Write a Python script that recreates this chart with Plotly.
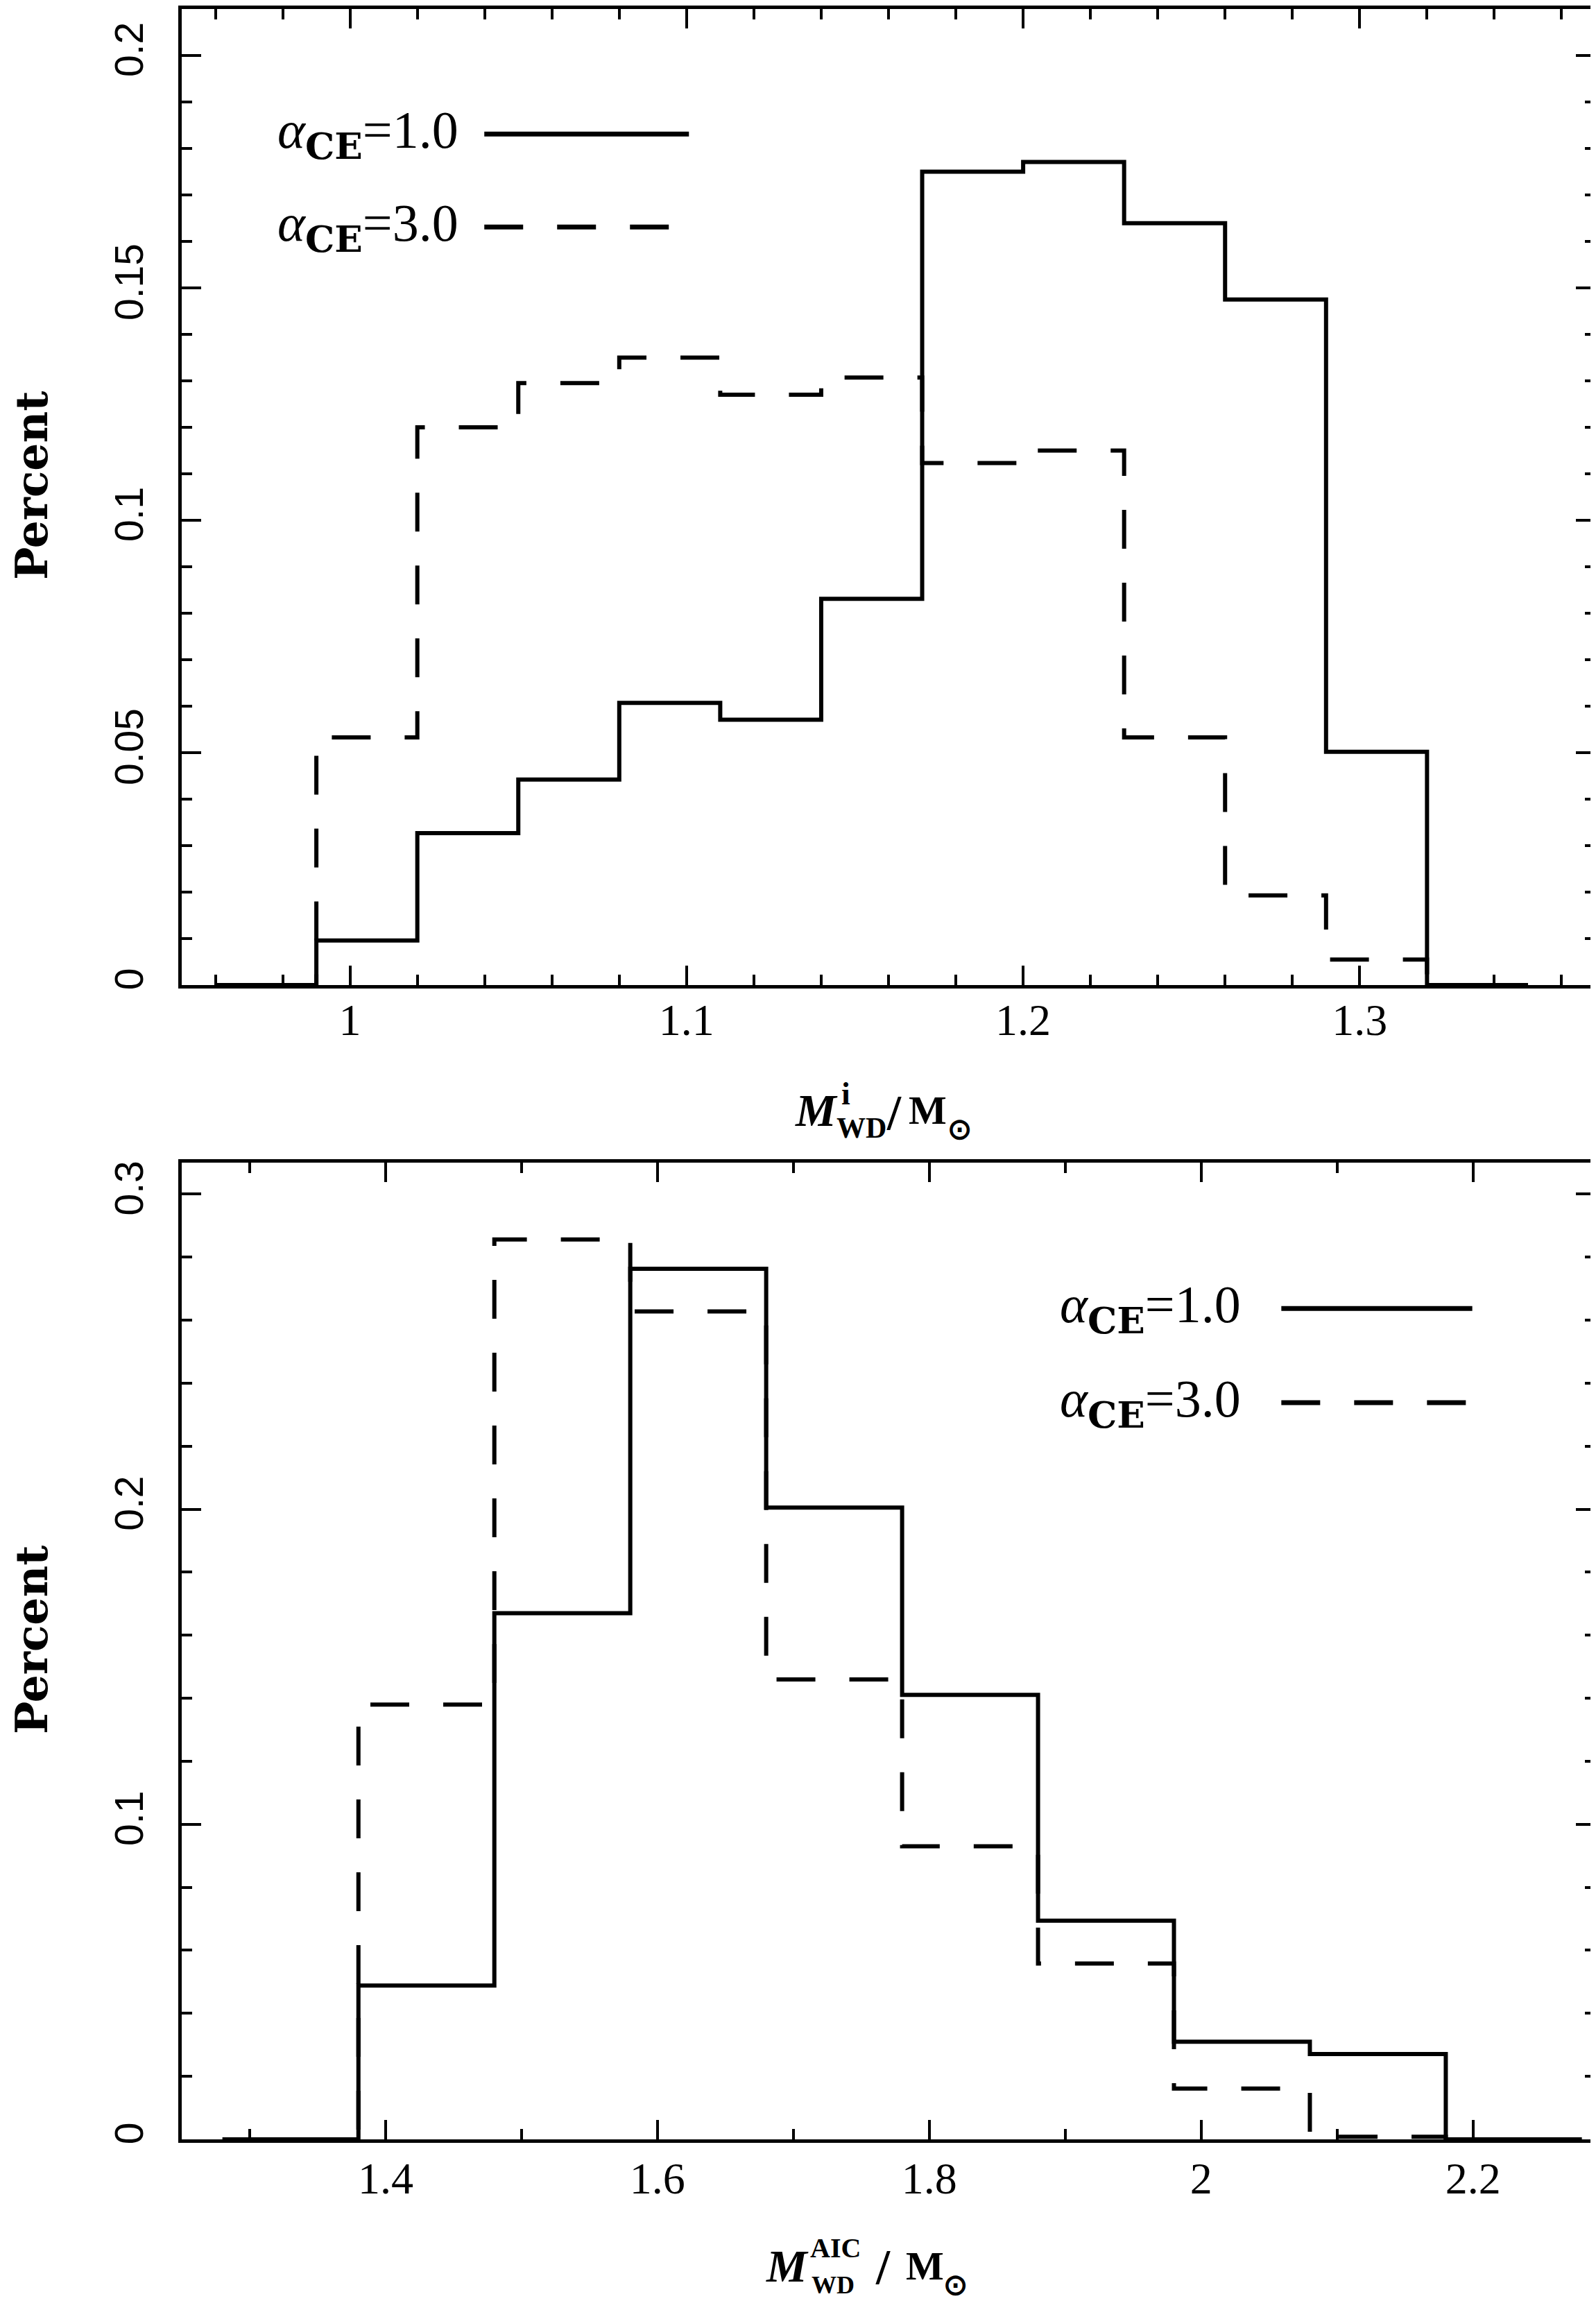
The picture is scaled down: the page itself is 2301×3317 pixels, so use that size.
import plotly.graph_objects as go

W, H = 2301, 3317

# histogram of initial WD mass (top panel), bins of 0.03
mi_edges = [0.96, 0.99, 1.02, 1.05, 1.08, 1.11, 1.14, 1.17, 1.20, 1.23, 1.26, 1.29, 1.32, 1.35]
mi_ce1 = [0, 0.0096, 0.0327, 0.0442, 0.0607, 0.0571, 0.0831, 0.1750, 0.1771, 0.1639, 0.1475, 0.0502, 0]
mi_ce3 = [0, 0.0533, 0.1200, 0.1295, 0.1350, 0.1270, 0.1307, 0.1123, 0.1150, 0.0533, 0.0193, 0.0055, 0]

# histogram of WD mass at AIC (bottom panel), bins of 0.1
maic_edges = [1.28, 1.38, 1.48, 1.58, 1.68, 1.78, 1.88, 1.98, 2.08, 2.18, 2.28]
maic_ce1 = [0, 0.0488, 0.167, 0.2763, 0.2005, 0.1411, 0.0694, 0.031, 0.0271, 0]
maic_ce3 = [0, 0.138, 0.2856, 0.2628, 0.146, 0.093, 0.0558, 0.0161, 0.0008, 0]

CE = "<sub><span style='font-family:DejaVu Serif'><b>CE</b></span></sub>"
labels = ["<i>α</i>" + CE + "=1.0", "<i>α</i>" + CE + "=3.0"]

DASH = "56px,49px"
LW = 6


def px(x, y):
    return x / W, 1 - y / H


fig = go.Figure()

for edges, vals, ax in [(mi_edges, mi_ce1, "1"), (maic_edges, maic_ce1, "2")]:
    fig.add_trace(go.Scatter(x=edges, y=vals + [vals[-1]], mode="lines", line_shape="hv",
                             line=dict(color="black", width=LW),
                             xaxis="x" if ax == "1" else "x2", yaxis="y" if ax == "1" else "y2",
                             showlegend=False, hoverinfo="skip"))
for edges, vals, ax in [(mi_edges, mi_ce3, "1"), (maic_edges, maic_ce3, "2")]:
    fig.add_trace(go.Scatter(x=edges, y=vals + [vals[-1]], mode="lines", line_shape="hv",
                             line=dict(color="black", width=LW, dash=DASH),
                             xaxis="x" if ax == "1" else "x2", yaxis="y" if ax == "1" else "y2",
                             showlegend=False, hoverinfo="skip"))

axis_common = dict(showline=True, linecolor="black", linewidth=5, mirror="allticks",
                   ticks="inside", ticklen=28, tickwidth=4, tickcolor="black",
                   showgrid=False, zeroline=False, automargin=False)

xfont = dict(family="Liberation Serif", size=64, color="black")
yfont = dict(family="Liberation Sans", size=57, color="black")

fig.update_layout(
    width=W, height=H, plot_bgcolor="white", paper_bgcolor="white",
    margin=dict(l=0, r=0, t=0, b=0),
    xaxis=dict(domain=[254 / W, 2292 / W], range=[0.95, 1.37], anchor="y",
               tickvals=[1, 1.1, 1.2, 1.3], ticktext=["1", "1.1", "1.2", "1.3"],
               minor=dict(ticks="inside", ticklen=15, tickwidth=4, tickcolor="black", dtick=0.02, tick0=0),
               tickfont=xfont, ticklabelstandoff=-10, **axis_common),
    yaxis=dict(domain=[1 - 1412 / H, 1 - 5 / H], range=[0, 0.21], anchor="x",
               tickvals=[0, 0.05, 0.1, 0.15, 0.2], ticktext=["0", "0.05", "0.1", "0.15", "0.2"],
               minor=dict(ticks="inside", ticklen=15, tickwidth=4, tickcolor="black", dtick=0.01, tick0=0),
               tickangle=-90, tickfont=yfont, ticklabelstandoff=28, **axis_common),
    xaxis2=dict(domain=[254 / W, 2292 / W], range=[1.25, 2.29], anchor="y2",
                tickvals=[1.4, 1.6, 1.8, 2.0, 2.2], ticktext=["1.4", "1.6", "1.8", "2", "2.2"],
                minor=dict(ticks="inside", ticklen=15, tickwidth=4, tickcolor="black", dtick=0.1, tick0=0),
                tickfont=xfont, ticklabelstandoff=-4, **axis_common),
    yaxis2=dict(domain=[1 - 3076 / H, 1 - 1668 / H], range=[0, 0.31], anchor="x2",
                tickvals=[0, 0.1, 0.2, 0.3], ticktext=["0", "0.1", "0.2", "0.3"],
                minor=dict(ticks="inside", ticklen=15, tickwidth=4, tickcolor="black", dtick=0.02, tick0=0),
                tickangle=-90, tickfont=yfont, ticklabelstandoff=28, **axis_common),
)

# y axis titles
for yc in [692, 2356]:
    x, y = px(38, yc)
    fig.add_annotation(x=x, y=y, xref="paper", yref="paper", text="<b>Percent</b>", showarrow=False,
                       textangle=-90, xanchor="center", yanchor="middle",
                       font=dict(family="DejaVu Serif", size=63, color="black"))

# legends: text + line keys
leg = [
    ("x", "y", 0.978, 1.0399, 1.1007, [0.1831, 0.1631]),
    ("x2", "y2", 1.895, 2.059, 2.1995, [0.2637, 0.2338]),
]
for xr, yr, xt, x0, x1, ys in leg:
    for i, (lab, yv) in enumerate(zip(labels, ys)):
        fig.add_annotation(x=xt, y=yv, xref=xr, yref=yr, text=lab, showarrow=False,
                           xanchor="left", yanchor="middle",
                           font=dict(family="Liberation Serif", size=76, color="black"))
        fig.add_shape(type="line", x0=x0, x1=x1, y0=yv, y1=yv, xref=xr, yref=yr,
                      line=dict(color="black", width=7, dash="solid" if i == 0 else DASH))


# x axis titles built from pieces so the super/subscripts stack
def piece(text, x, y, size, italic=False):
    xx, yy = px(x, y)
    t = "<b>" + text + "</b>"
    if italic:
        t = "<i>" + t + "</i>"
    fig.add_annotation(x=xx, y=yy, xref="paper", yref="paper", text=t, showarrow=False,
                       xanchor="left", yanchor="middle",
                       font=dict(family="Liberation Serif", size=size, color="black"))


piece("M", 1136, 1592, 66, italic=True)
piece("i", 1203, 1568, 46)
piece("WD", 1196, 1618, 42)
piece("/", 1268, 1596, 72)
piece("M", 1300, 1592, 58)
piece("⊙", 1356, 1620, 42)

piece("M", 1094, 3258, 66, italic=True)
piece("AIC", 1158, 3232, 40)
piece("WD", 1160, 3286, 36)
piece("/", 1252, 3260, 72)
piece("M", 1296, 3258, 58)
piece("⊙", 1350, 3286, 42)

fig.write_html("out.html")
